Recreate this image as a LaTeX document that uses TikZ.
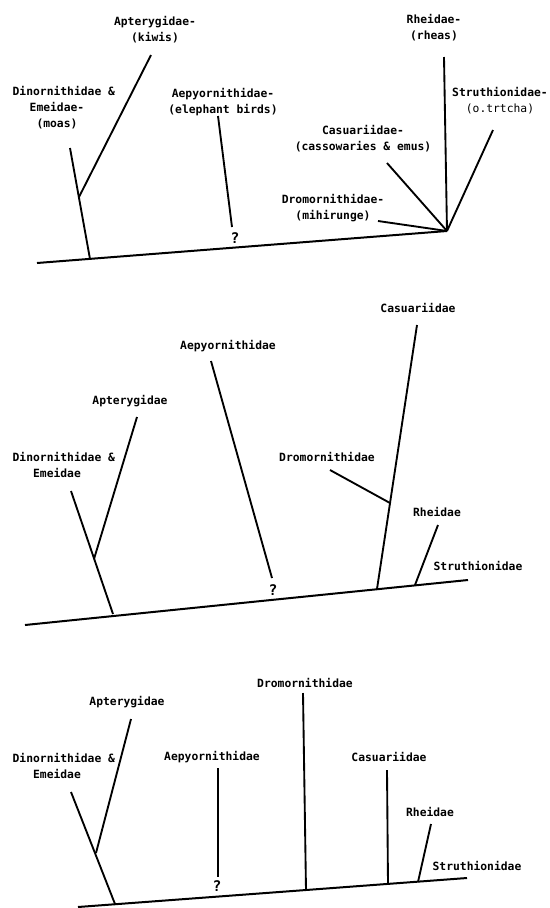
\documentclass[tikz,border=0pt]{standalone}
\usepackage{fontspec}
\setmonofont{DejaVu Sans Mono}
\usepackage{tikz}

\begin{document}
\begin{tikzpicture}[
  x=0.75pt, y=-0.75pt,
  lbl/.style={font=\ttfamily\bfseries\fontsize{8.5}{12}\selectfont, align=center, inner sep=0pt},
  qmark/.style={font=\ttfamily\bfseries\fontsize{11}{12}\selectfont, inner sep=0pt},
  stem/.style={line width=1.4pt},
  base/.style={line width=1.5pt}
]
\useasboundingbox (0,0) rectangle (550,908);

% --- top tree: star of ratites ---
\coordinate (a0) at (37,263);
\coordinate (aR) at (447,231);
\coordinate (aDn) at (90,259);
\coordinate (aDt) at (70,148);
\coordinate (aAj) at (79,197);
\coordinate (aAt) at (151,55);
\coordinate (aEt) at (218,116);
\coordinate (aEb) at (232,227);
\coordinate (aRt) at (444,57);
\coordinate (aSt) at (493,130);
\coordinate (aCt) at (387,163);
\coordinate (aMt) at (378,221);

\node[lbl] (apt1) at (155,30) {Apterygidae-\\(kiwis)};
\node[lbl] (dino1) at (57,108) {Dinornithidae\rlap{ \&}\\Emeidae-\\(moas)};
\node[lbl] (aepy1) at (223,102) {Aepyornithidae-\\(elephant birds)};
\node[lbl] (rhea1) at (434,28) {Rheidae-\\(rheas)};
\node[lbl] (stru1) at (500,101) {Struthionidae-\\\mdseries (o.trtcha)};
\node[lbl] (cas1) at (363,139) {Casuariidae-\\(cassowaries \& emus)};
\node[lbl] (drom1) at (333,208) {Dromornithidae-\\(mihirunge)};
\node[qmark] (q1) at (235,238) {?};

\draw[base] (a0) -- (aR);
\draw[stem] (aDn) -- (aDt);
\draw[stem] (aAj) -- (aAt);
\draw[stem] (aEt) -- (aEb);
\draw[stem] (aRt) -- (aR);
\draw[stem] (aSt) -- (aR);
\draw[stem] (aCt) -- (aR);
\draw[stem] (aMt) -- (aR);

% --- middle tree ---
\coordinate (b0) at (25,625);
\coordinate (bE) at (468,580);
\coordinate (bDn) at (113,614);
\coordinate (bDt) at (71,491);
\coordinate (bAj) at (94,559);
\coordinate (bAt) at (137,417);
\coordinate (bEt) at (211,361);
\coordinate (bEb) at (272,578);
\coordinate (bCn) at (377,589);
\coordinate (bCt) at (417,325);
\coordinate (bMj) at (390,503);
\coordinate (bMt) at (330,470);
\coordinate (bRn) at (415,585);
\coordinate (bRt) at (438,525);

\node[lbl] (aepy2) at (228,346) {Aepyornithidae};
\node[lbl] (apt2) at (130,401) {Apterygidae};
\node[lbl] (dino2) at (57,465) {Dinornithidae\rlap{ \&}\\Emeidae};
\node[lbl] (cas2) at (418,308) {Casuariidae};
\node[lbl] (drom2) at (327,457) {Dromornithidae};
\node[lbl] (rhea2) at (437,512) {Rheidae};
\node[lbl] (stru2) at (478,566) {Struthionidae};
\node[qmark] (q2) at (273,590) {?};

\draw[base] (b0) -- (bE);
\draw[stem] (bDn) -- (bDt);
\draw[stem] (bAj) -- (bAt);
\draw[stem] (bEt) -- (bEb);
\draw[stem] (bCn) -- (bCt);
\draw[stem] (bMj) -- (bMt);
\draw[stem] (bRn) -- (bRt);

% --- bottom tree ---
\coordinate (c0) at (78,907);
\coordinate (cE) at (467,878);
\coordinate (cDn) at (115,904);
\coordinate (cDt) at (71,792);
\coordinate (cAj) at (96,853);
\coordinate (cAt) at (131,719);
\coordinate (cEt) at (218,768);
\coordinate (cEb) at (218,877);
\coordinate (cMn) at (306,890);
\coordinate (cMt) at (303,693);
\coordinate (cCn) at (388,884);
\coordinate (cCt) at (387,770);
\coordinate (cRn) at (418,882);
\coordinate (cRt) at (431,824);

\node[lbl] (apt3) at (127,702) {Apterygidae};
\node[lbl] (dino3) at (57,766) {Dinornithidae\rlap{ \&}\\Emeidae};
\node[lbl] (aepy3) at (212,757) {Aepyornithidae};
\node[lbl] (drom3) at (305,683) {Dromornithidae};
\node[lbl] (cas3) at (389,757) {Casuariidae};
\node[lbl] (rhea3) at (430,812) {Rheidae};
\node[lbl] (stru3) at (477,866) {Struthionidae};
\node[qmark] (q3) at (217,886) {?};

\draw[base] (c0) -- (cE);
\draw[stem] (cDn) -- (cDt);
\draw[stem] (cAj) -- (cAt);
\draw[stem] (cEt) -- (cEb);
\draw[stem] (cMn) -- (cMt);
\draw[stem] (cCn) -- (cCt);
\draw[stem] (cRn) -- (cRt);

\end{tikzpicture}
\end{document}
